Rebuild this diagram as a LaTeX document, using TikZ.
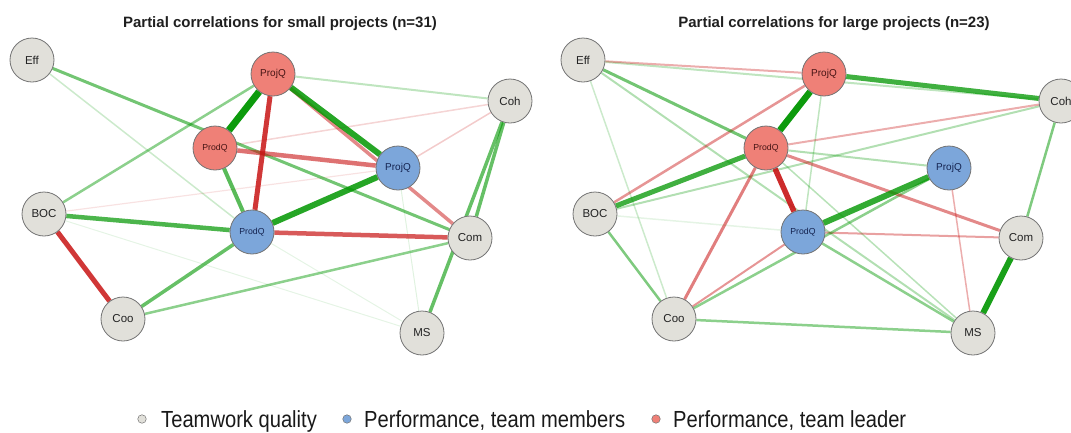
\documentclass[tikz,border=0pt]{standalone}
\usepackage{fontspec}
\setmainfont{Liberation Sans}
\newfontfamily\legendfont[FakeStretch=0.865]{Liberation Sans}

\definecolor{tqfill}{RGB}{225,224,218}
\definecolor{pmfill}{RGB}{124,166,218}
\definecolor{plfill}{RGB}{239,128,119}
\definecolor{nodeline}{RGB}{115,115,115}
\definecolor{tqtext}{RGB}{35,35,35}
\definecolor{pmtext}{RGB}{20,35,80}
\definecolor{pltext}{RGB}{70,20,20}
\definecolor{gpos}{RGB}{0,150,0}
\definecolor{gneg}{RGB}{200,20,20}

\pgfdeclarelayer{edges}
\pgfsetlayers{edges,main}

\tikzset{
  vertex/.style={circle, draw=nodeline, line width=0.8pt, minimum size=44pt, inner sep=0pt},
  tq/.style={vertex, fill=tqfill, text=tqtext, font=\fontsize{11.5}{12}\selectfont},
  pm/.style={vertex, fill=pmfill, text=pmtext},
  pl/.style={vertex, fill=plfill, text=pltext},
  projlbl/.style={font=\fontsize{10}{11}\selectfont},
  prodlbl/.style={font=\fontsize{8.7}{10}\selectfont},
  pos/.style 2 args={draw=gpos, line width=#1pt, draw opacity=#2},
  neg/.style 2 args={draw=gneg, line width=#1pt, draw opacity=#2},
  title/.style={font=\bfseries\fontsize{15}{17}\selectfont, text=black!88},
  legdot/.style={circle, draw=nodeline, line width=0.5pt, minimum size=8.5pt, inner sep=0pt},
  legtext/.style={anchor=base west, inner sep=0pt, font=\legendfont\fontsize{23.3}{25}\selectfont, text=black!90}
}

\begin{document}
\begin{tikzpicture}[x=1pt, y=-1pt]
\useasboundingbox (0,0) rectangle (1071,432);

% ---------- small projects ----------
\node[title] (Ltitle) at (280,24) {Partial correlations for small projects (n=31)};
\node[tq] (LEff) at (32,60) {Eff};
\node[pl, projlbl] (LPjR) at (273,74) {ProjQ};
\node[tq] (LCoh) at (510,101) {Coh};
\node[pl, prodlbl] (LPdR) at (215,148) {ProdQ};
\node[pm, projlbl] (LPjB) at (398,168) {ProjQ};
\node[tq] (LBOC) at (44,214) {BOC};
\node[pm, prodlbl] (LPdB) at (252,232) {ProdQ};
\node[tq] (LCom) at (470,238) {Com};
\node[tq] (LCoo) at (123,319) {Coo};
\node[tq] (LMS) at (422,333) {MS};

\begin{pgfonlayer}{edges}
  \draw[pos={1}{0.10}] (LBOC) -- (LMS);
  \draw[pos={1}{0.10}] (LPdB) -- (LMS);
  \draw[pos={1}{0.12}] (LPjB) -- (LMS);
  \draw[neg={1.2}{0.12}] (LBOC) -- (LPjB);
  \draw[pos={1.5}{0.20}] (LEff) -- (LPdB);
  \draw[neg={1.5}{0.18}] (LCoh) -- (LPdR);
  \draw[neg={1.5}{0.22}] (LCoh) -- (LPjB);
  \draw[pos={2}{0.25}] (LPjR) -- (LCoh);
  \draw[pos={2.5}{0.45}] (LPjR) -- (LBOC);
  \draw[pos={2.5}{0.45}] (LCoo) -- (LCom);
  \draw[pos={3}{0.55}] (LEff) -- (LCom);
  \draw[neg={3.5}{0.50}] (LPjR) -- (LCom);
  \draw[pos={3.5}{0.60}] (LCoh) -- (LCom);
  \draw[pos={3.5}{0.60}] (LCoh) -- (LMS);
  \draw[pos={3.5}{0.60}] (LPdB) -- (LCoo);
  \draw[pos={4}{0.65}] (LPdR) -- (LPdB);
  \draw[neg={4.5}{0.60}] (LPdR) -- (LPjB);
  \draw[pos={4.5}{0.70}] (LBOC) -- (LPdB);
  \draw[neg={4.5}{0.70}] (LPdB) -- (LCom);
  \draw[neg={5}{0.85}] (LBOC) -- (LCoo);
  \draw[neg={5}{0.85}] (LPjR) -- (LPdB);
  \draw[pos={6}{0.85}] (LPjR) -- (LPjB);
  \draw[pos={6}{0.85}] (LPdB) -- (LPjB);
  \draw[pos={7}{0.95}] (LPjR) -- (LPdR);
\end{pgfonlayer}

% ---------- large projects ----------
\node[title] (Rtitle) at (834,24) {Partial correlations for large projects (n=23)};
\begin{scope}[xshift=551pt]
\node[tq] (REff) at (32,60) {Eff};
\node[pl, projlbl] (RPjR) at (273,74) {ProjQ};
\node[tq] (RCoh) at (510,101) {Coh};
\node[pl, prodlbl] (RPdR) at (215,148) {ProdQ};
\node[pm, projlbl] (RPjB) at (398,168) {ProjQ};
\node[tq] (RBOC) at (44,214) {BOC};
\node[pm, prodlbl] (RPdB) at (252,232) {ProdQ};
\node[tq] (RCom) at (470,238) {Com};
\node[tq] (RCoo) at (123,319) {Coo};
\node[tq] (RMS) at (422,333) {MS};
\end{scope}

\begin{pgfonlayer}{edges}
  \draw[pos={1.5}{0.10}] (RBOC) -- (RPdB);
  \draw[pos={1.5}{0.20}] (REff) -- (RCoo);
  \draw[pos={1.5}{0.25}] (RPjR) -- (RPdB);
  \draw[pos={1.5}{0.28}] (RPdR) -- (RMS);
  \draw[pos={2}{0.30}] (REff) -- (RMS);
  \draw[pos={2}{0.25}] (REff) -- (RCoh);
  \draw[pos={2}{0.30}] (RCoh) -- (RBOC);
  \draw[pos={2}{0.30}] (RPdR) -- (RPjB);
  \draw[neg={1.5}{0.35}] (RPjB) -- (RMS);
  \draw[neg={2}{0.35}] (REff) -- (RPjR);
  \draw[neg={2}{0.35}] (RPdR) -- (RCoh);
  \draw[neg={2}{0.40}] (RPdB) -- (RCom);
  \draw[neg={2}{0.45}] (RPdB) -- (RCoo);
  \draw[pos={2.5}{0.45}] (RPjB) -- (RCoo);
  \draw[pos={2.5}{0.45}] (RPdB) -- (RMS);
  \draw[pos={2.5}{0.45}] (RCoo) -- (RMS);
  \draw[pos={2.5}{0.50}] (RBOC) -- (RCoo);
  \draw[pos={2.5}{0.50}] (RCoh) -- (RCom);
  \draw[neg={2.5}{0.45}] (RPjR) -- (RBOC);
  \draw[pos={3}{0.55}] (REff) -- (RPdR);
  \draw[neg={3}{0.50}] (RPdR) -- (RCom);
  \draw[neg={3}{0.55}] (RPdR) -- (RCoo);
  \draw[pos={5}{0.75}] (RPjR) -- (RCoh);
  \draw[pos={5}{0.75}] (RPdR) -- (RBOC);
  \draw[neg={5.5}{0.90}] (RPdR) -- (RPdB);
  \draw[pos={6}{0.80}] (RPjB) -- (RPdB);
  \draw[pos={6}{0.90}] (RCom) -- (RMS);
  \draw[pos={6.5}{0.95}] (RPjR) -- (RPdR);
\end{pgfonlayer}

% ---------- legend ----------
\node[legdot, fill=tqfill] (dotTQ) at (142,419) {};
\node[legtext] (txtTQ) at (161,427.5) {Teamwork quality};
\node[legdot, fill=pmfill] (dotPM) at (347,419) {};
\node[legtext] (txtPM) at (364,427.5) {Performance, team members};
\node[legdot, fill=plfill] (dotPL) at (656,419) {};
\node[legtext] (txtPL) at (673,427.5) {Performance, team leader};
\end{tikzpicture}
\end{document}
